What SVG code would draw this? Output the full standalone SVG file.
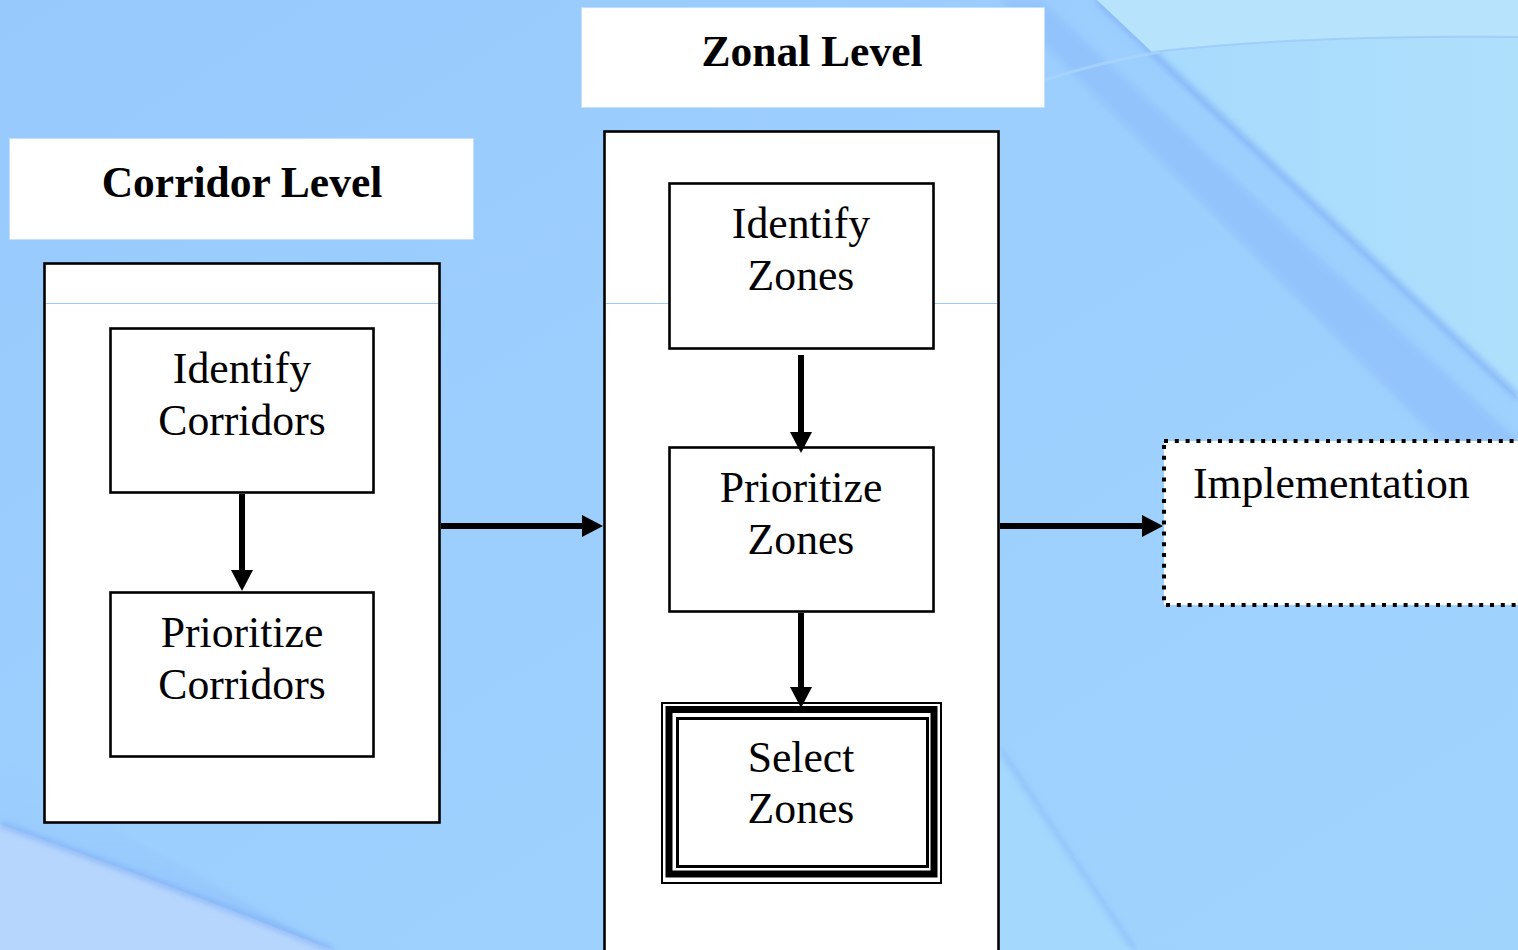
<svg xmlns="http://www.w3.org/2000/svg" width="1518" height="950" viewBox="0 0 1518 950">
  <style>
    .hdr { fill: #ffffff; stroke: #c4e0ff; stroke-width: 1; }
    .panel { fill: #ffffff; stroke: #000000; stroke-width: 2.6; }
    .box { fill: #ffffff; stroke: #000000; stroke-width: 2.6; }
    .sep { stroke: #9bcbfd; stroke-width: 1; }
    .title { font-family: "Liberation Serif", "Times New Roman", serif; font-weight: bold; font-size: 43.5px; fill: #000000; text-anchor: middle; }
    .lbl { font-family: "Liberation Serif", "Times New Roman", serif; font-size: 43.7px; fill: #000000; text-anchor: middle; }
    .conn { stroke: #000000; stroke-width: 6; fill: none; }
    .dotted { fill: #ffffff; stroke: #000000; stroke-width: 4; stroke-dasharray: 4 6.8; }
  </style>
  <defs>
    <marker id="head" markerUnits="userSpaceOnUse" viewBox="0 0 21 22" refX="1" refY="11" markerWidth="21" markerHeight="22" orient="auto">
      <path d="M0,0 L21,11 L0,22 Z" fill="#000000"/>
    </marker>
    <filter id="soft" x="-10%" y="-10%" width="120%" height="120%">
      <feGaussianBlur stdDeviation="3"/>
    </filter>
    <linearGradient id="bgMain" x1="0" y1="0" x2="1" y2="1">
      <stop offset="0" stop-color="#98c9fd"/>
      <stop offset="0.5" stop-color="#9dcffe"/>
      <stop offset="1" stop-color="#a0d4fd"/>
    </linearGradient>
    <linearGradient id="bandTR" x1="0" y1="0" x2="1" y2="0">
      <stop offset="0" stop-color="#a6d9fd"/>
      <stop offset="1" stop-color="#aee0fc"/>
    </linearGradient>
    <linearGradient id="shadeBL" x1="0" y1="0" x2="0" y2="1">
      <stop offset="0" stop-color="#9bcbfd" stop-opacity="0"/>
      <stop offset="1" stop-color="#7eaef6" stop-opacity="0.7"/>
    </linearGradient>
  </defs>

  <!-- backdrop -->
  <g id="backdrop">
    <rect x="0" y="0" width="1518" height="950" fill="url(#bgMain)"/>
    <!-- darker shading along the left side of the diagonal sweep -->
    <path d="M1040,0 L1518,440 L1518,520 L1000,0 Z" fill="#8dbcfa" opacity="0.6" filter="url(#soft)"/>
    <!-- upper right light sweep -->
    <path d="M1097,0 L1518,397 L1518,0 Z" fill="url(#bandTR)"/>
    <path d="M1097,0 L1518,397" stroke="#80b0f6" stroke-width="5" fill="none" filter="url(#soft)"/>
    <path d="M1152,52 Q1300,35 1518,37 L1518,0 L1097,0 Z" fill="#b8e3fc"/>
    <path d="M1152,52 Q1300,35 1518,37" stroke="#98c6fb" stroke-width="2" fill="none" opacity="0.7"/>
    <path d="M1045,80 Q1100,62 1160,52" stroke="#a8d5fd" stroke-width="3" fill="none" opacity="0.8"/>
    <!-- lower left wedge -->
    <path d="M0,760 Q170,860 330,950 L0,950 Z" fill="url(#shadeBL)" opacity="0.6" filter="url(#soft)"/>
    <path d="M0,824 Q170,885 333,950 L0,950 Z" fill="#b6d6fd"/>
    <path d="M0,824 Q170,885 333,950" stroke="#80adf5" stroke-width="4" fill="none" filter="url(#soft)"/>
    <!-- lower right faint streak -->
    <path d="M1000,750 L1134,950 L1000,950 Z" fill="#a4d8fd"/>
    <path d="M1000,750 L1134,950" stroke="#86b6f8" stroke-width="3" fill="none" filter="url(#soft)"/>
  </g>

  <!-- corridor level panel -->
  <g id="corridor-header">
    <rect class="hdr" x="9.5" y="138.5" width="464" height="101"/>
    <text class="title" x="242" y="197">Corridor Level</text>
  </g>
  <g id="corridor-panel">
    <rect class="panel" x="44.5" y="263.5" width="395" height="559"/>
    <line class="sep" x1="46" y1="303.5" x2="438" y2="303.5"/>
  </g>
  <g id="identify-corridors">
    <rect class="box" x="110.5" y="328.5" width="263" height="164"/>
    <text class="lbl" x="242" y="383">Identify</text>
    <text class="lbl" x="242" y="435">Corridors</text>
  </g>
  <g id="prioritize-corridors">
    <rect class="box" x="110.5" y="592.5" width="263" height="164"/>
    <text class="lbl" x="242" y="647">Prioritize</text>
    <text class="lbl" x="242" y="699">Corridors</text>
  </g>

  <!-- zonal level panel -->
  <g id="zonal-header">
    <rect class="hdr" x="581.5" y="7.5" width="463" height="100"/>
    <text class="title" x="812" y="66">Zonal Level</text>
  </g>
  <g id="zonal-panel">
    <rect class="panel" x="604.5" y="131.5" width="394" height="830"/>
    <line class="sep" x1="606" y1="303.5" x2="997" y2="303.5"/>
  </g>
  <g id="identify-zones">
    <rect class="box" x="669.5" y="183.5" width="264" height="165"/>
    <text class="lbl" x="801" y="238">Identify</text>
    <text class="lbl" x="801" y="290">Zones</text>
  </g>
  <g id="prioritize-zones">
    <rect class="box" x="669.5" y="447.5" width="264" height="164"/>
    <text class="lbl" x="801" y="502">Prioritize</text>
    <text class="lbl" x="801" y="554">Zones</text>
  </g>
  <g id="select-zones">
    <rect x="662" y="703" width="279" height="180" fill="#ffffff" stroke="#000000" stroke-width="2"/>
    <rect x="669" y="709.5" width="265" height="164.5" fill="none" stroke="#000000" stroke-width="7"/>
    <rect x="677.5" y="718.5" width="250" height="148" fill="none" stroke="#000000" stroke-width="3"/>
    <text class="lbl" x="801" y="772">Select</text>
    <text class="lbl" x="801" y="823">Zones</text>
  </g>

  <!-- implementation -->
  <g id="implementation">
    <rect class="dotted" x="1164" y="441" width="380" height="164"/>
    <text class="lbl" x="1193" y="498" style="text-anchor:start">Implementation</text>
  </g>

  <!-- connectors -->
  <g id="connectors">
    <line class="conn" x1="242" y1="494" x2="242" y2="571" marker-end="url(#head)"/>
    <line class="conn" x1="801" y1="355" x2="801" y2="433" marker-end="url(#head)"/>
    <line class="conn" x1="801" y1="613" x2="801" y2="688" marker-end="url(#head)"/>
    <line class="conn" x1="441" y1="526" x2="583" y2="526" marker-end="url(#head)"/>
    <line class="conn" x1="1000" y1="526" x2="1143" y2="526" marker-end="url(#head)"/>
  </g>
</svg>
